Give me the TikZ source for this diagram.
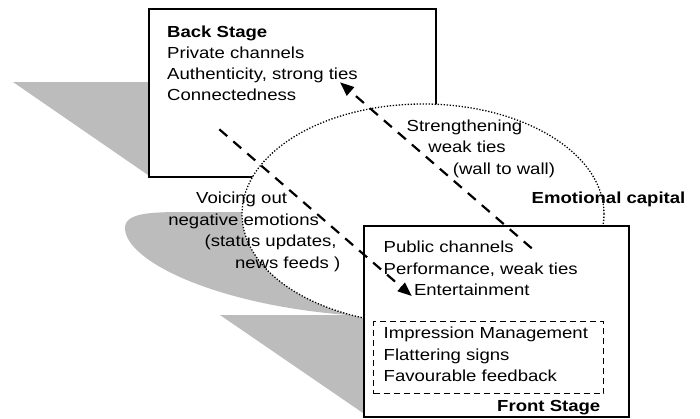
\documentclass[tikz,border=0pt]{standalone}
\usepackage{fontspec}
\setmainfont{Liberation Sans}[FakeStretch=1.16]
\usetikzlibrary{arrows.meta}
\definecolor{shade}{RGB}{188,188,188}
\begin{document}
\begin{tikzpicture}[x=1pt,y=-1pt,
  txt/.style={anchor=base west,inner sep=0pt,font=\fontsize{16}{21}\selectfont},
  boldtxt/.style={anchor=base west,inner sep=0pt,font=\fontsize{16}{21}\selectfont\bfseries},
  stagebox/.style={draw=black,line width=1.5pt,fill=white,anchor=north west,inner sep=0pt},
  innerbox/.style={draw=black,line width=1.2pt,dash pattern=on 6pt off 4pt,anchor=north west,inner sep=0pt},
  capital/.style={draw=black,line width=1.3pt,dash pattern=on 1.3pt off 1.7pt,fill=white},
  flow/.style={line width=2.2pt,dash pattern=on 10.5pt off 8pt,-{Triangle[length=14pt,width=11pt]}},
  shadowfill/.style={fill=shade,draw=none}]
\useasboundingbox (0,0) rectangle (700,418);
\fill[white] (0,0) rectangle (700,418);
% grey shadow shapes
\path[shadowfill] (13,82) -- (148,82) -- (148,175) -- cycle;
\path[shadowfill] (220,315) -- (363,315) -- (363,413) -- cycle;
\path[shadowfill] (363,316) .. controls (222,308) and (125,262) .. (125,228)
   .. controls (125,213) and (150,212) .. (185,212) -- (300,212) -- (400,320) -- cycle;
% back stage box
\node[stagebox,minimum width=287pt,minimum height=168pt] (back) at (148,8) {};
% emotional capital ellipse
\draw[capital] (423,214) ellipse [x radius=181pt,y radius=110pt];
\coordinate (ellipse) at (423,214);
% front stage box
\node[stagebox,minimum width=265pt,minimum height=191pt] (front) at (363,225) {};
\node[innerbox,minimum width=230pt,minimum height=72pt] (impr) at (373,321) {};
% back stage texts
\node[boldtxt] (bs) at (167,37.3) {Back Stage};
\node[txt] (b1) at (167,58.5) {Private channels};
\node[txt] (b2) at (167,79.7) {Authenticity, strong ties};
\node[txt] (b3) at (167,100.9) {Connectedness};
% front stage texts
\node[txt] (f1) at (383.5,252.5) {Public channels};
\node[txt] (f2) at (383.5,274.3) {Performance, weak ties};
\node[txt] (f3) at (413.8,295) {Entertainment};
\node[txt] (i1) at (383.5,338.3) {Impression Management};
\node[txt] (i2) at (383.5,360) {Flattering signs};
\node[txt] (i3) at (383.5,381.7) {Favourable feedback};
\node[boldtxt,anchor=base east] (fs) at (600.5,411.7) {Front Stage};
% emotional capital label
\node[boldtxt] (ec) at (531.5,203.3) {Emotional capital};
% strengthening label
\node[txt] (s1) at (406.5,131.3) {Strengthening};
\node[txt] (s2) at (428.2,152.8) {weak ties};
\node[txt] (s3) at (452.7,174) {(wall to wall)};
% voicing label
\node[txt] (v1) at (196,203.8) {Voicing out};
\node[txt] (v2) at (168.1,225.2) {negative emotions};
\node[txt] (v3) at (204.4,246.7) {(status updates,};
\node[txt] (v4) at (234.8,268.3) {news feeds )};
% arrows
\coordinate (a1s) at (219.3,129.3);
\coordinate (a1e) at (411.7,296);
\coordinate (a2s) at (531.7,248.3);
\coordinate (a2e) at (340,82.3);
\draw[flow] (a1s) -- (a1e);
\draw[flow] (a2s) -- (a2e);
\end{tikzpicture}
\end{document}
